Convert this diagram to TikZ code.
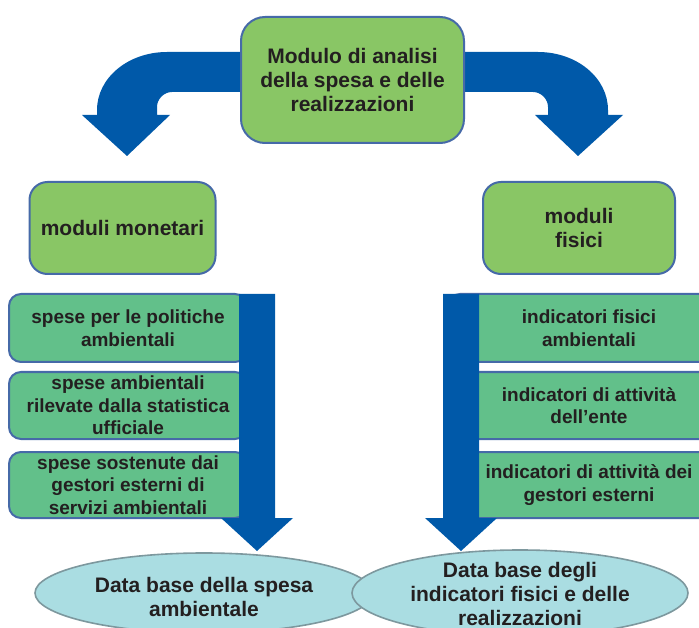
\documentclass[tikz,border=0pt]{standalone}
\usepackage{fontspec}
\setmainfont{Liberation Sans}
\usepackage{xcolor}
\usepackage{tikz}
\usetikzlibrary{shapes.geometric}

\definecolor{modgreen}{RGB}{137,198,101}
\definecolor{itemgreen}{RGB}{98,192,138}
\definecolor{edgeblue}{RGB}{70,106,168}
\definecolor{arrowblue}{RGB}{0,89,169}
\definecolor{dbfill}{RGB}{170,221,226}
\definecolor{dbedge}{RGB}{125,152,158}
\definecolor{ink}{RGB}{35,31,32}

\begin{document}
\begin{tikzpicture}[x=1pt, y=-1pt,
      modbox/.style={draw=edgeblue, line width=2pt, fill=modgreen, rounded corners=18pt,
        align=center, text=ink, font=\bfseries\fontsize{21}{24}\selectfont},
      itembox/.style={draw=edgeblue, line width=2pt, fill=itemgreen, rounded corners=12pt,
        inner sep=0pt, align=center, text=ink, font=\bfseries\fontsize{19}{22.5}\selectfont},
      dbshape/.style={ellipse, draw=dbedge, line width=1.6pt, fill=dbfill, inner sep=0pt},
      dbtext/.style={align=center, text=ink, font=\bfseries\fontsize{21}{24}\selectfont},
      bigarrow/.style={fill=arrowblue}]
    \useasboundingbox[fill=white] (0,0) rectangle (699,628);
    \clip (0,0) rectangle (699,628);

    \foreach \i/\y/\h/\t in {1/328/68/{spese per le politiche\\ambientali},
        2/405.5/67/{spese ambientali\\rilevate dalla statistica\\ufficiale},
        3/485/66/{spese sostenute dai\\gestori esterni di\\servizi ambientali}}
      \node[itembox, minimum width=238pt, minimum height=\h pt] (spesa\i) at (128,\y) {\t};
    \foreach \i/\y/\h/\t in {1/328/68/{indicatori fisici\\ambientali},
        2/405.5/67/{indicatori di attività\\dell’ente},
        3/485/66/{indicatori di attività dei\\gestori esterni}}
      \node[itembox, minimum width=282pt, minimum height=\h pt] (indic\i) at (589,\y) {\t};

    \foreach \s in {1,-1}
      \fill[bigarrow, shift={(352.5,0)}, xscale=\s] (-52.5,52) -- (-185.5,52)
        .. controls (-224.5,52) and (-255.5,78) .. (-255.5,110) -- (-255.5,115)
        -- (-270.5,115) -- (-225.5,156) -- (-182.5,115) -- (-195.5,115) -- (-195.5,107)
        .. controls (-195.5,99) and (-188.5,92) .. (-180.5,92) -- (-52.5,92) -- cycle;
    \foreach \x in {257,461}
      \fill[bigarrow] ({\x-18},294) -- ({\x+18},294) -- ({\x+18},518) -- ({\x+36},518)
        -- (\x,551) -- ({\x-36},518) -- ({\x-18},518) -- cycle;

    \node[modbox, minimum width=223pt, minimum height=126pt, rounded corners=24pt] (modulo)
      at (352.5,80) {Modulo di analisi\\della spesa e delle\\realizzazioni};
    \node[modbox, minimum width=186pt, minimum height=92pt] (monetari) at (122.5,228) {moduli monetari};
    \node[modbox, minimum width=192pt, minimum height=92pt] (fisici) at (579,228) {moduli\\fisici};

    \node[dbshape, minimum width=338pt, minimum height=80pt] (dbspesa) at (204,593) {};
    \node[dbshape, minimum width=336pt, minimum height=86pt] (dbindic) at (520,593) {};
    \node[dbtext] (dbspesatxt) at (204,597) {Data base della spesa\\ambientale};
    \node[dbtext] (dbindictxt) at (520,594) {Data base degli\\indicatori fisici e delle\\realizzazioni};
  \end{tikzpicture}
\end{document}
